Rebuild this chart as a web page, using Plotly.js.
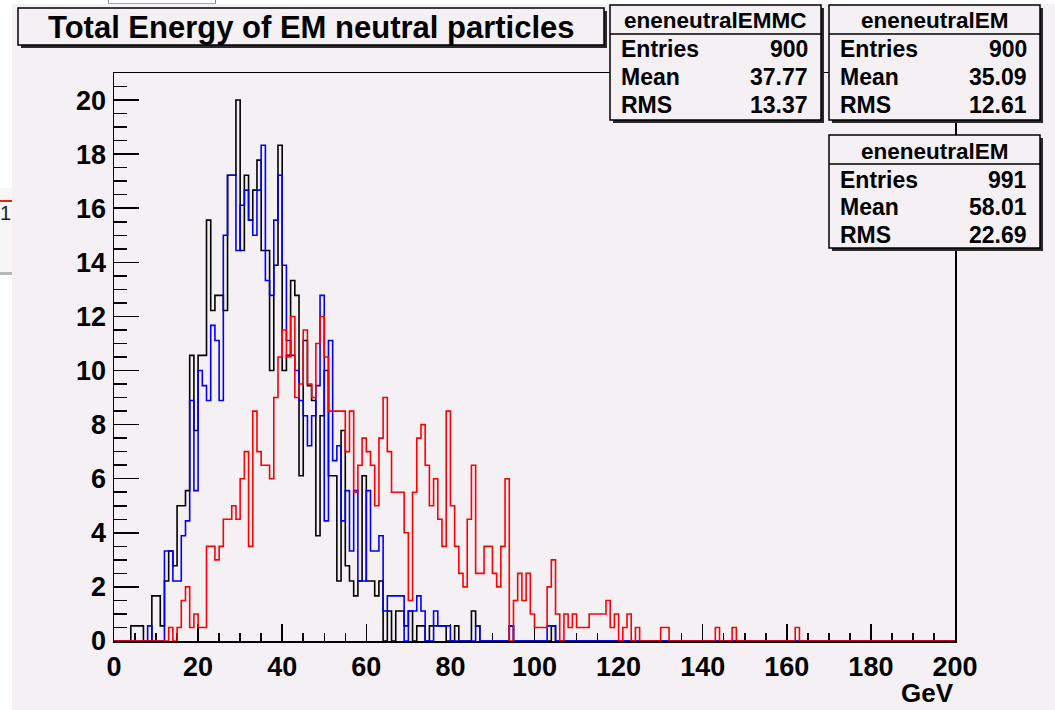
<!DOCTYPE html>
<html>
<head>
<meta charset="utf-8">
<script src="https://cdn.plot.ly/plotly-3.0.1.min.js"></script>
<style>
  html, body { margin: 0; padding: 0; background: #ffffff; }
  #wrap { position: relative; width: 1055px; height: 710px; overflow: hidden; background: #ffffff; }
  #chart { position: absolute; left: 12px; top: 4px; width: 1043px; height: 706px; }
  #sidewin { position: absolute; left: 0; top: 188px; width: 12px; height: 84px;
             background: #f6f6f6; border-bottom: 3px solid #b8b8b8; }
  #sidewin .bar { position: absolute; left: 0; top: 12px; width: 12px; height: 2px; background: #e02020; }
  #sidewin .num { position: absolute; left: 0; top: 14px; font: 20px "Liberation Sans", sans-serif; color: #222; line-height: 22px; }
  #topwin { position: absolute; left: 108px; top: 0; width: 106px; height: 3px;
            border-left: 1px solid #888; border-right: 1px solid #888; border-bottom: 1px solid #aaa; }
</style>
</head>
<body>
<div id="wrap">
  <div id="topwin"></div>
  <div id="sidewin"><div class="bar"></div><div class="num">1</div></div>
  <div id="chart"></div>
</div>
<script>
// Histogram binning: 200 bins of 1 GeV between 0 and 200 GeV
const X_MIN = 0, BIN_W = 1, N_BINS = 200;

// eneneutralEMMC (black)
const emmcValues = [
  0, 0, 0, 0, 0.56, 0.56, 0.56, 0, 0, 1.67,
  1.67, 0.56, 2.22, 3.33, 2.78, 5.00, 5.00, 5.56, 10.56, 7.78,
  10.56, 10.56, 15.56, 12.22, 12.78, 12.78, 12.22, 17.22, 17.22, 20.00,
  14.44, 17.22, 15.56, 16.67, 17.78, 14.44, 14.44, 10.00, 13.89, 18.33,
  10.00, 10.56, 13.33, 12.78, 6.11, 11.11, 9.44, 8.89, 3.89, 8.33,
  10.00, 6.11, 6.11, 2.22, 7.78, 2.78, 2.22, 1.67, 2.22, 6.11,
  2.22, 2.22, 1.67, 2.22, 0, 1.11, 0, 1.11, 1.11, 0.56,
  1.11, 0, 0.56, 0.56, 0, 0.56, 0.56, 0.56, 0.56, 0,
  0, 0.56, 0, 0, 0, 1.11, 0.56, 0, 0, 0,
  0, 0, 0, 0, 0.56, 0, 0, 0, 0, 0,
  0, 0, 0, 0, 0.56, 0, 0, 0, 0, 0,
  0, 0, 0, 0, 0, 0, 0, 0, 0, 0,
  0, 0, 0, 0, 0, 0, 0, 0, 0, 0,
  0, 0, 0, 0, 0, 0, 0, 0, 0, 0,
  0, 0, 0, 0, 0, 0, 0, 0, 0, 0,
  0, 0, 0, 0, 0, 0, 0, 0, 0, 0,
  0, 0, 0, 0, 0, 0, 0, 0, 0, 0,
  0, 0, 0, 0, 0, 0, 0, 0, 0, 0,
  0, 0, 0, 0, 0, 0, 0, 0, 0, 0,
  0, 0, 0, 0, 0, 0, 0, 0, 0, 0
];

// eneneutralEM, 900 entries (blue)
const emValues = [
  0, 0, 0, 0, 0, 0, 0, 0, 0.56, 0,
  0, 0, 3.33, 3.33, 2.22, 2.22, 3.89, 4.44, 8.89, 5.56,
  10.00, 9.44, 8.89, 11.67, 11.11, 8.89, 15.00, 17.22, 17.22, 14.44,
  16.11, 16.67, 15.56, 15.00, 16.67, 18.33, 13.33, 12.78, 15.56, 17.22,
  13.89, 11.11, 10.56, 10.00, 8.89, 8.33, 7.22, 8.33, 9.44, 12.78,
  4.44, 11.11, 6.67, 7.22, 4.44, 5.56, 3.33, 5.56, 2.22, 2.22,
  5.56, 3.33, 3.33, 3.89, 1.11, 1.67, 1.67, 1.67, 1.67, 0,
  1.11, 1.11, 1.67, 1.11, 0, 0, 1.11, 0.56, 0.56, 0.56,
  0, 0, 0, 0, 0, 0, 0.56, 0, 0, 0,
  0, 0, 0, 0, 0.56, 0, 0, 0, 0, 0,
  0, 0, 0, 0.56, 0.56, 0, 0, 0, 0, 0,
  0, 0, 0, 0, 0, 0, 0, 0, 0, 0,
  0, 0, 0, 0, 0, 0, 0, 0, 0, 0,
  0, 0, 0, 0, 0, 0, 0, 0, 0, 0,
  0, 0, 0, 0, 0, 0, 0, 0, 0, 0,
  0, 0, 0, 0, 0, 0, 0, 0, 0, 0,
  0, 0, 0, 0, 0, 0, 0, 0, 0, 0,
  0, 0, 0, 0, 0, 0, 0, 0, 0, 0,
  0, 0, 0, 0, 0, 0, 0, 0, 0, 0,
  0, 0, 0, 0, 0, 0, 0, 0, 0, 0
];

// eneneutralEM, 991 entries (red)
const emDataValues = [
  0, 0, 0, 0, 0, 0, 0, 0, 0, 0,
  0, 0, 0, 0.5, 0, 0.5, 1.5, 2.0, 0.5, 1.0,
  0.5, 0.5, 3.5, 3.5, 3.0, 3.5, 4.5, 4.5, 5.0, 4.5,
  6.0, 7.0, 3.5, 8.5, 7.0, 6.5, 6.5, 6.0, 9.0, 10.5,
  11.5, 10.5, 12.0, 9.0, 9.5, 11.5, 9.5, 9.0, 11.0, 12.0,
  10.5, 8.5, 8.5, 8.5, 8.5, 7.0, 8.5, 5.5, 6.5, 7.5,
  7.0, 6.5, 5.0, 7.5, 9.0, 7.0, 5.5, 5.5, 5.5, 4.0,
  1.5, 5.5, 7.5, 8.0, 6.5, 5.0, 6.0, 4.5, 3.5, 8.5,
  5.0, 3.5, 2.5, 2.0, 4.5, 6.5, 2.5, 2.5, 3.5, 3.5,
  2.5, 2.0, 3.5, 6.0, 0, 1.5, 2.5, 1.5, 2.5, 1.0,
  0.5, 0.5, 0.5, 2.0, 3.0, 1.0, 0, 1.0, 0.5, 1.0,
  0.5, 0.5, 0.5, 1.0, 1.0, 1.0, 1.0, 1.5, 0.5, 1.0,
  0, 0.5, 1.0, 0, 0.5, 0, 0, 0, 0, 0,
  0.5, 0.5, 0, 0, 0, 0, 0, 0, 0, 0,
  0, 0, 0, 0.5, 0, 0, 0, 0.5, 0, 0,
  0, 0, 0, 0, 0, 0, 0, 0, 0, 0,
  0, 0, 0.5, 0, 0, 0, 0, 0, 0, 0,
  0, 0, 0, 0, 0, 0, 0, 0, 0, 0,
  0, 0, 0, 0, 0, 0, 0, 0, 0, 0,
  0, 0, 0, 0, 0, 0, 0, 0, 0, 0
];

// Statistics boxes
const statNames   = ["eneneutralEMMC", "eneneutralEM", "eneneutralEM"];
const statEntries = ["900", "900", "991"];
const statMeans   = ["37.77", "35.09", "58.01"];
const statRms     = ["13.37", "12.61", "22.69"];
const statLabels  = ["Entries", "Mean", "RMS"];

const chartTitle = "Total Energy of EM neutral particles";
const xTitle = "GeV";

// ---------- drawing ----------
const BG = "#f4f0f4";
const FONT = "Liberation Sans, Arial, Helvetica, sans-serif";
const W = 1043, H = 706, ML = 102, MR = 100, MT = 69, MB = 69;
const OX = 12, OY = 4;              // offset of the chart div in the page
const PW = W - ML - MR, PH = H - MT - MB;
// page pixel -> paper coordinates
const px = x => (x - OX - ML) / PW;
const py = y => (H - MB - (y - OY)) / PH;

function stepTrace(vals, color) {
  const xs = [], ys = [];
  for (let i = 0; i <= vals.length; i++) {
    xs.push(X_MIN + i * BIN_W);
    ys.push(i < vals.length ? vals[i] : vals[vals.length - 1]);
  }
  return { x: xs, y: ys, type: "scatter", mode: "lines",
           line: { color: color, width: 1.6, shape: "hv" }, hoverinfo: "skip", showlegend: false };
}

const traces = [
  stepTrace(emmcValues, "#000000"),
  stepTrace(emValues, "#0000ff"),
  stepTrace(emDataValues, "#ff0000")
];

const shapes = [];
const annotations = [];

function boxWithShadow(x0, y0, x1, y1) {
  shapes.push({ type: "rect", xref: "paper", yref: "paper",
    x0: px(x0 + 3), x1: px(x1 + 3), y0: py(y0 + 3), y1: py(y1 + 3),
    fillcolor: "#2a2a2a", line: { width: 0 }, layer: "above" });
  shapes.push({ type: "rect", xref: "paper", yref: "paper",
    x0: px(x0), x1: px(x1), y0: py(y0), y1: py(y1),
    fillcolor: BG, line: { color: "#000", width: 1.5 }, layer: "above" });
}
function hline(x0, x1, y) {
  shapes.push({ type: "line", xref: "paper", yref: "paper",
    x0: px(x0), x1: px(x1), y0: py(y), y1: py(y), line: { color: "#000", width: 1.5 }, layer: "above" });
}
function text(t, x, y, size, anchor) {
  annotations.push({ text: t, xref: "paper", yref: "paper", x: px(x), y: py(y),
    xanchor: anchor, yanchor: "middle", showarrow: false,
    font: { family: FONT, size: size, color: "#000", weight: "bold" } });
}

// title pave
boxWithShadow(18, 8, 604, 45);
text(chartTitle, 311, 27, 31, "center");

// stat boxes
const boxes = [
  { x0: 610, x1: 821, y0: 5,   sep: 34,  rows: [49, 77, 105], head: 20 },
  { x0: 829, x1: 1040, y0: 5,  sep: 34,  rows: [49, 77, 105], head: 20 },
  { x0: 829, x1: 1040, y0: 135, sep: 164, rows: [180, 207, 235], head: 151 }
];
boxes.forEach((b, i) => {
  const y1 = b.y0 + 115;
  boxWithShadow(b.x0, b.y0, b.x1, y1 - (i === 2 ? 2 : 0));
  hline(b.x0, b.x1, b.sep);
  text(statNames[i], (b.x0 + b.x1) / 2, b.head, 22.5, "center");
  const vals = [statEntries[i], statMeans[i], statRms[i]];
  for (let r = 0; r < 3; r++) {
    text(statLabels[r], b.x0 + 9, b.rows[r], 23, "left");
    text(vals[r], b.x1 - 11, b.rows[r], 23, "right");
  }
});

// axis title at the end of the x axis
text(xTitle, 956, 693, 26, "right");

const tickFont = { family: FONT, size: 27, color: "#000", weight: "bold" };
const layout = {
  width: W, height: H,
  margin: { l: ML, r: MR, t: MT, b: MB, pad: 0 },
  paper_bgcolor: BG, plot_bgcolor: BG,
  showlegend: false,
  xaxis: {
    range: [0, 200], tick0: 0, dtick: 20, ticks: "inside", ticklen: 17, tickwidth: 1.5, tickcolor: "#000",
    showline: true, linecolor: "#000", linewidth: 1.5, mirror: true,
    showgrid: false, zeroline: false, tickfont: tickFont, ticklabelstandoff: 1,
    layer: "below traces",
    minor: { dtick: 5, tick0: 0, ticks: "inside", ticklen: 8.5, tickwidth: 1.5, tickcolor: "#000", showgrid: false }
  },
  yaxis: {
    range: [0, 21], tick0: 0, dtick: 2, ticks: "inside", ticklen: 25, tickwidth: 1.5, tickcolor: "#000",
    showline: true, linecolor: "#000", linewidth: 1.5, mirror: true,
    showgrid: false, zeroline: false, tickfont: tickFont, ticklabelstandoff: 1,
    layer: "below traces",
    minor: { dtick: 0.5, tick0: 0, ticks: "inside", ticklen: 12.5, tickwidth: 1.5, tickcolor: "#000", showgrid: false }
  },
  shapes: shapes,
  annotations: annotations
};

Plotly.newPlot("chart", traces, layout, { staticPlot: true, displayModeBar: false });
</script>
</body>
</html>
